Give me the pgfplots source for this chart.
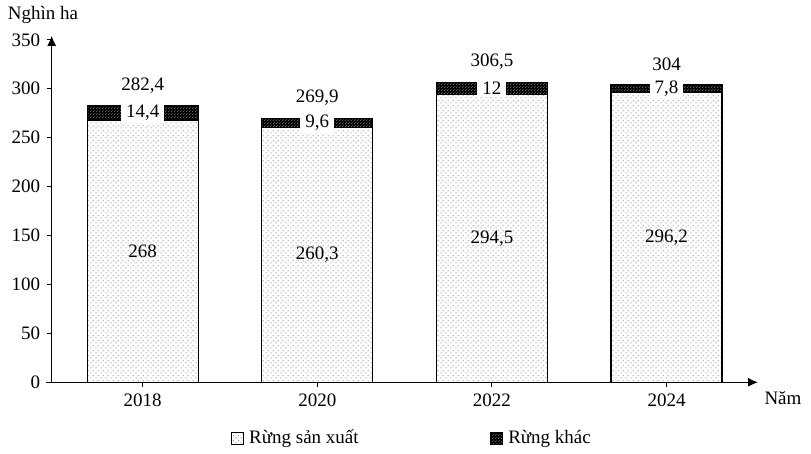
\documentclass[border=0pt]{standalone}
\usepackage{fontspec}
\setmainfont{Liberation Serif}
\usepackage{pgfplots}
\pgfplotsset{compat=1.18}
\usetikzlibrary{patterns,patterns.meta,arrows.meta}
\tikzdeclarepattern{
  name=sparsedots,
  type=uncolored,
  bottom left={(0pt,0pt)},
  top right={(5pt,5pt)},
  tile size={(5pt,5pt)},
  code={\fill (1.25pt,1.25pt) circle (0.6pt); \fill (3.75pt,3.75pt) circle (0.6pt);}
}
\tikzdeclarepattern{
  name=densedots,
  type=uncolored,
  bottom left={(0pt,0pt)},
  top right={(3pt,3pt)},
  tile size={(3pt,3pt)},
  code={\fill (0.75pt,0.75pt) circle (0.5pt); \fill (2.25pt,2.25pt) circle (0.5pt);}
}
\begin{document}
\fontsize{19}{22}\selectfont
\begin{tikzpicture}
\useasboundingbox (-51.7pt,-71.7pt) rectangle (759.3pt,382.3pt);
\begin{axis}[
  scale only axis,
  width=706.3pt, height=346.4pt,
  xmin=-0.521, xmax=3.524,
  ymin=0, ymax=354,
  axis x line*=bottom,
  axis y line*=left,
  axis line style={line width=1.2pt, -{Latex[length=10pt,width=9pt]}},
  x axis line style={shorten <=-6pt},
  ybar stacked,
  bar width=0.636,
  xtick={0,1,2,3},
  xticklabels={2018,2020,2022,2024},
  ytick={0,50,100,150,200,250,300,350},
  tick align=outside,
  major tick length=5pt,
  tick style={line width=1.2pt, black},
  /pgf/number format/assume math mode=true,
  clip=false,
  legend columns=2,
  legend style={draw=none, at={(0.509,-0.161)}, anchor=center,
    nodes={inner sep=1pt},
    /tikz/every odd column/.append style={column sep=5pt},
    /tikz/every even column/.append style={column sep=130pt}},
  legend image code/.code={\draw[#1, line width=0.6pt] (0pt,-6pt) rectangle (12pt,6pt);},
]
\addplot[draw=black, line width=1.2pt, fill=white, postaction={pattern=sparsedots, pattern color=gray!60!black}]
  coordinates {(0,268) (1,260.3) (2,294.5) (3,296.2)};
\addlegendentry{Rừng sản xuất}
\addplot[draw=black, line width=1.2pt, fill=black, postaction={pattern=densedots, pattern color=gray!60}]
  coordinates {(0,14.4) (1,9.6) (2,12) (3,7.8)};
\addlegendentry{Rừng khác}
\coordinate (b0) at (axis cs:0,134);
\coordinate (b1) at (axis cs:1,130.15);
\coordinate (b2) at (axis cs:2,147.25);
\coordinate (b3) at (axis cs:3,148.1);
\coordinate (s0) at (axis cs:0,275.2);
\coordinate (s1) at (axis cs:1,265.1);
\coordinate (s2) at (axis cs:2,300.5);
\coordinate (s3) at (axis cs:3,300.1);
\coordinate (t0) at (axis cs:0,303.4);
\coordinate (t1) at (axis cs:1,290.9);
\coordinate (t2) at (axis cs:2,327.5);
\coordinate (t3) at (axis cs:3,325);
\coordinate (ylab) at (axis cs:-0.571,375.3);
\coordinate (xlab) at (axis cs:3.667,-16);
\end{axis}
\node at (b0) {268};
\node at (b1) {260,3};
\node at (b2) {294,5};
\node at (b3) {296,2};
\node[fill=white, inner xsep=5pt, inner ysep=2pt] at (s0) {14,4};
\node[fill=white, inner xsep=5pt, inner ysep=2pt] at (s1) {9,6};
\node[fill=white, inner xsep=5pt, inner ysep=2pt] at (s2) {12};
\node[fill=white, inner xsep=5pt, inner ysep=2pt] at (s3) {7,8};
\node at (t0) {282,4};
\node at (t1) {269,9};
\node at (t2) {306,5};
\node at (t3) {304};
\node at (ylab) {Nghìn ha};
\node at (xlab) {Năm};
\end{tikzpicture}
\end{document}
